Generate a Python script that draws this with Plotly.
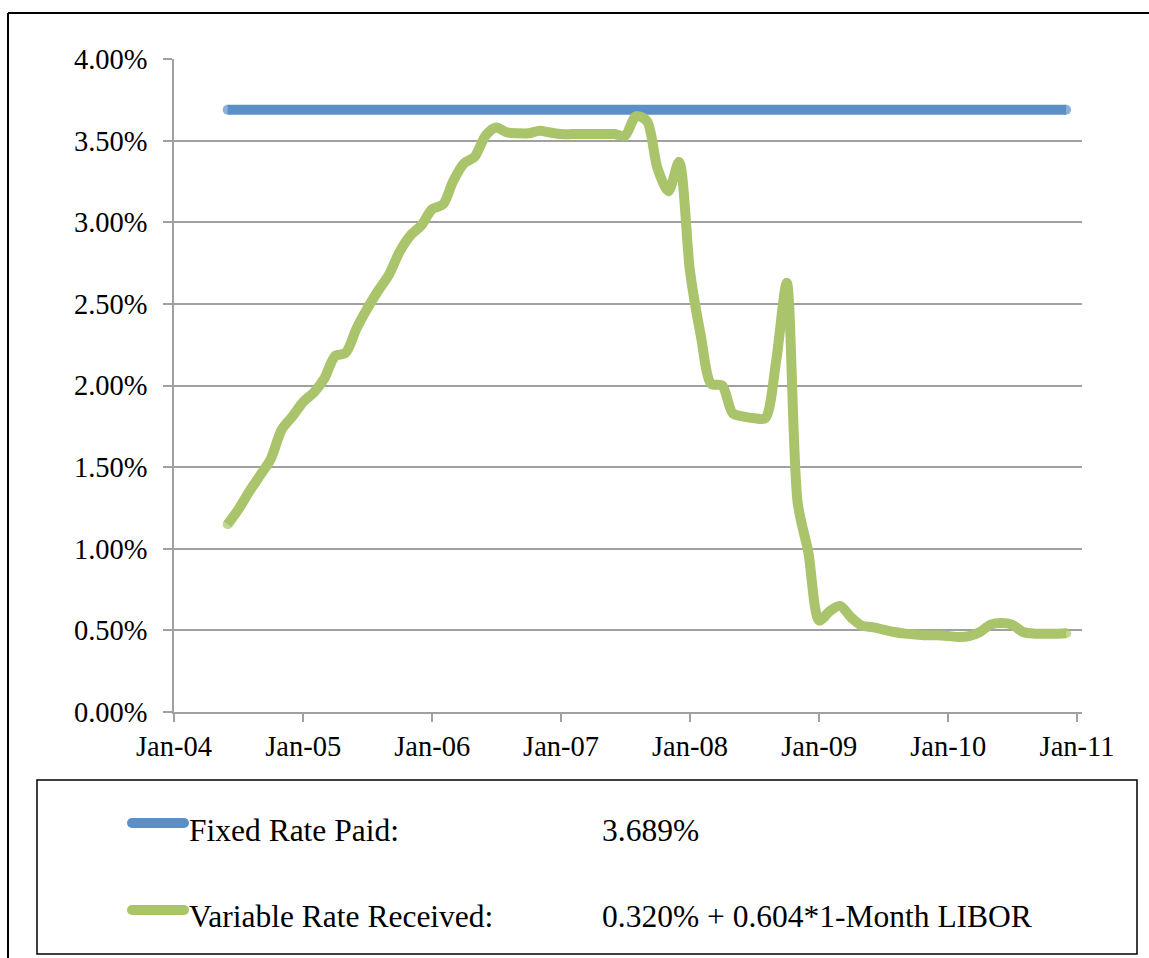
import pandas as pd
import plotly.graph_objects as go

# Monthly observations, Jun 2004 - Dec 2010
months = pd.date_range("2004-06-01", "2010-12-01", freq="MS")

fixed_rate = [3.689] * len(months)

variable_rate = [
    # 2004 (Jun-Dec)
    1.15, 1.24, 1.35, 1.45, 1.55, 1.73, 1.81,
    # 2005
    1.90, 1.96, 2.04, 2.18, 2.20, 2.35, 2.47, 2.58, 2.68, 2.82, 2.92, 2.98,
    # 2006
    3.08, 3.11, 3.25, 3.36, 3.40, 3.53, 3.58, 3.55, 3.545, 3.545, 3.56, 3.55,
    # 2007
    3.54, 3.54, 3.54, 3.54, 3.54, 3.54, 3.53, 3.65, 3.62, 3.33, 3.19, 3.37,
    # 2008
    2.70, 2.30, 2.01, 2.00, 1.83, 1.81, 1.80, 1.80, 2.15, 2.63, 1.28, 0.98,
    # 2009
    0.56, 0.62, 0.65, 0.58, 0.53, 0.52, 0.505, 0.49, 0.48, 0.475, 0.47, 0.47,
    # 2010
    0.465, 0.46, 0.465, 0.49, 0.535, 0.545, 0.535, 0.49, 0.48, 0.48, 0.48, 0.483,
]

legend_labels = ["Fixed Rate Paid:", "Variable Rate Received:"]
legend_terms = ["3.689%", "0.320% + 0.604*1-Month LIBOR"]

BLUE = "#5B8FC8"
GREEN = "#A9C46A"
GRID = "#A0A0A0"
FONT = "Liberation Serif, Times New Roman, serif"
LW = 10

W, H = 1149, 958
L, R, T, B = 174, 67, 59, 246
plot_w = W - L - R
plot_h = H - T - B


def px(x):
    return (x - L) / plot_w


def py(y):
    return (H - B - y) / plot_h


# round end caps: a dot only on the first and last point of each line
cap_sizes = [LW] + [0] * (len(months) - 2) + [LW]

fig = go.Figure()
fig.add_trace(go.Scatter(
    x=months, y=fixed_rate, mode="lines+markers", name=legend_labels[0],
    line=dict(color=BLUE, width=LW),
    marker=dict(color=BLUE, size=cap_sizes, line=dict(width=0)),
    showlegend=False,
))
fig.add_trace(go.Scatter(
    x=months, y=variable_rate, mode="lines+markers", name=legend_labels[1],
    line=dict(color=GREEN, width=LW, shape="spline", smoothing=0.8),
    marker=dict(color=GREEN, size=cap_sizes, line=dict(width=0)),
    showlegend=False,
))

shapes = [
    # outer frame: top and left edges
    dict(type="line", xref="paper", yref="paper",
         x0=px(8), x1=px(1149), y0=py(13), y1=py(13),
         line=dict(color="black", width=2)),
    dict(type="line", xref="paper", yref="paper",
         x0=px(8), x1=px(8), y0=py(13), y1=py(958),
         line=dict(color="black", width=2)),
    # legend box
    dict(type="rect", xref="paper", yref="paper",
         x0=px(37), x1=px(1137), y0=py(954), y1=py(780),
         line=dict(color="black", width=1.5)),
]

# legend swatches with rounded ends
for color, yc in [(BLUE, 823), (GREEN, 910)]:
    shapes.append(dict(type="line", xref="paper", yref="paper",
                       x0=px(132), x1=px(184), y0=py(yc), y1=py(yc),
                       line=dict(color=color, width=LW)))
    for xc in (132, 184):
        shapes.append(dict(type="circle", xref="paper", yref="paper",
                           x0=px(xc - LW / 2), x1=px(xc + LW / 2),
                           y0=py(yc + LW / 2), y1=py(yc - LW / 2),
                           fillcolor=color, line=dict(width=0)))

annotations = []
for label, term, yc in zip(legend_labels, legend_terms, [830, 916]):
    annotations.append(dict(
        text=label, x=px(187), y=py(yc), xref="paper", yref="paper",
        xanchor="left", yanchor="middle", showarrow=False,
        font=dict(family=FONT, size=31.5, color="black")))
    annotations.append(dict(
        text=term, x=px(600), y=py(yc), xref="paper", yref="paper",
        xanchor="left", yanchor="middle", showarrow=False,
        font=dict(family=FONT, size=31.5, color="black")))

fig.update_layout(
    width=W, height=H, autosize=False,
    margin=dict(l=L, r=R, t=T, b=B, pad=0),
    paper_bgcolor="white", plot_bgcolor="white",
    font=dict(family=FONT, size=28.5, color="black"),
    shapes=shapes, annotations=annotations,
    showlegend=False,
)

fig.update_xaxes(
    type="date", range=["2004-01-01", "2011-01-15"],
    tick0="2004-01-01", dtick="M12", tickformat="%b-%y",
    ticks="outside", ticklen=8, tickwidth=1.5, tickcolor=GRID,
    showline=True, linecolor=GRID, linewidth=1.5,
    showgrid=False, zeroline=False,
    tickfont=dict(family=FONT, size=28.5, color="black"),
)
fig.update_yaxes(
    range=[0, 4], dtick=0.5, tick0=0,
    tickformat=".2f", ticksuffix="%",
    ticks="outside", ticklen=9, tickwidth=1.5, tickcolor=GRID,
    ticklabelstandoff=10,
    showline=True, linecolor=GRID, linewidth=1.5,
    showgrid=True, gridcolor=GRID, gridwidth=1.5, zeroline=False,
    tickfont=dict(family=FONT, size=28.5, color="black"),
)

fig.write_html("out.html")
